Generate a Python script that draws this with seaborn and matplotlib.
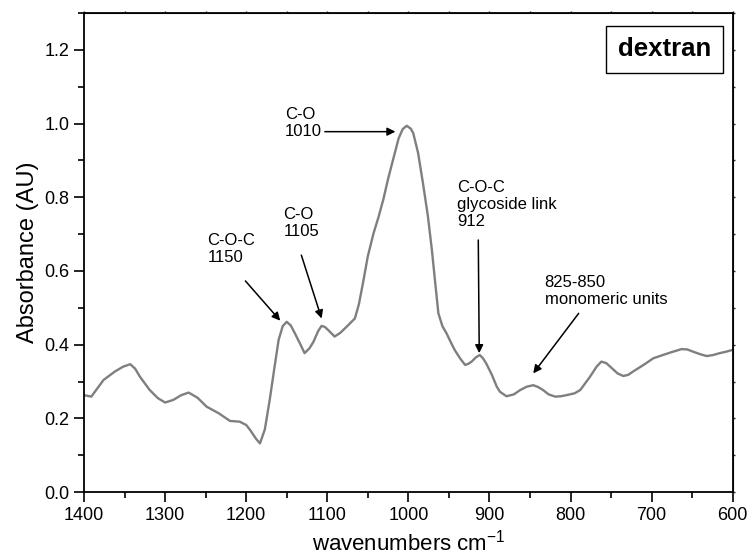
import numpy as np
import pandas as pd
import seaborn as sns
import matplotlib.pyplot as plt
from matplotlib.ticker import MultipleLocator

# FTIR spectrum of dextran
wavenumber = [1400, 1391, 1376, 1362, 1352, 1343, 1337, 1331, 1319, 1309, 1300,
              1290, 1280, 1271, 1260, 1249, 1234, 1220, 1208, 1200, 1195,
              1188, 1183, 1177, 1171, 1165, 1160, 1155, 1150, 1145, 1140,
              1133, 1128, 1122, 1117, 1111, 1107, 1103, 1099, 1091, 1084,
              1076, 1066, 1061, 1056, 1050, 1043, 1037, 1031, 1025, 1019,
              1012, 1007, 1002, 997, 994, 988, 982, 976, 971, 967, 963,
              958, 953, 948, 943, 936, 930, 926, 922, 917, 912,
              908, 904, 897, 891, 887, 879, 870, 862, 854, 846,
              840, 834, 827, 819, 812, 805, 795, 788, 782, 776,
              768, 762, 756, 749, 742, 735, 729, 723, 710, 698,
              686, 675, 663, 656, 649, 640, 632, 624, 616, 608, 600]
absorbance = [0.263, 0.259, 0.304, 0.327, 0.340, 0.347, 0.335, 0.313, 0.277, 0.255, 0.243,
              0.250, 0.263, 0.270, 0.256, 0.232, 0.214, 0.193, 0.191, 0.182, 0.168,
              0.145, 0.132, 0.170, 0.250, 0.340, 0.413, 0.450, 0.462, 0.452, 0.431,
              0.400, 0.377, 0.390, 0.408, 0.438, 0.451, 0.448, 0.440, 0.422, 0.432,
              0.449, 0.471, 0.510, 0.567, 0.640, 0.702, 0.745, 0.793, 0.850, 0.901,
              0.960, 0.985, 0.994, 0.986, 0.974, 0.920, 0.838, 0.750, 0.657, 0.570, 0.485,
              0.450, 0.431, 0.408, 0.386, 0.362, 0.345, 0.348, 0.354, 0.365, 0.372,
              0.363, 0.349, 0.318, 0.286, 0.272, 0.260, 0.265, 0.277, 0.286, 0.290,
              0.285, 0.277, 0.265, 0.259, 0.260, 0.263, 0.268, 0.277, 0.295, 0.313,
              0.340, 0.354, 0.350, 0.336, 0.322, 0.315, 0.318, 0.327, 0.345, 0.363,
              0.372, 0.380, 0.388, 0.387, 0.381, 0.374, 0.369, 0.372, 0.377, 0.381, 0.386]

# band annotations: label, text anchor (wn, abs), arrow start, arrow tip
labels = ["C-O-C\n1150", "C-O\n1105", "C-O\n1010",
          "C-O-C\nglycoside link\n912", "825-850\nmonomeric units"]
text_pos = [(1248, 0.703), (1154, 0.774), (1152, 1.045), (940, 0.847), (832, 0.589)]
arrow_from = [(1201, 0.573), (1132, 0.643), (1103, 0.978), (913.8, 0.684), (790, 0.485)]
arrow_to = [(1158, 0.465), (1107, 0.471), (1016, 0.978), (912.6, 0.377), (846, 0.322)]

df = pd.DataFrame({"wn": wavenumber, "abs": absorbance})

sns.set_style("ticks")
plt.rcParams['font.family'] = ['Liberation Sans', 'DejaVu Sans']
plt.rcParams['mathtext.fontset'] = 'custom'
plt.rcParams['mathtext.rm'] = 'Liberation Sans'
plt.rcParams['text.color'] = 'black'
plt.rcParams['axes.labelcolor'] = 'black'

fig = plt.figure(figsize=(7.5, 5.56), dpi=100)
ax = fig.add_axes([0.112, 0.115, 0.865, 0.8616])

sns.lineplot(data=df, x="wn", y="abs", sort=False, color="#7f7f7f", linewidth=1.7, ax=ax)

ax.set_xlim(1400, 600)
ax.set_ylim(0, 1.3)
ax.xaxis.set_major_locator(MultipleLocator(100))
ax.xaxis.set_minor_locator(MultipleLocator(50))
ax.set_yticks(np.arange(0, 1.21, 0.2))
ax.set_yticklabels([f"{v:.1f}" for v in np.arange(0, 1.21, 0.2)])
ax.yaxis.set_minor_locator(MultipleLocator(0.1))
ax.tick_params(which='major', direction='out', length=7, width=1.2, labelsize=13, colors='black')
ax.tick_params(which='minor', direction='out', length=4, width=1.2, colors='black')
for s in ax.spines.values():
    s.set_visible(True)
    s.set_linewidth(1.3)
    s.set_color('black')

# tiny ticks on top and right
top = ax.secondary_xaxis('top')
top.xaxis.set_major_locator(MultipleLocator(50))
top.tick_params(direction='out', length=1.5, width=1, labeltop=False)
right = ax.secondary_yaxis('right')
right.yaxis.set_major_locator(MultipleLocator(0.1))
right.tick_params(direction='out', length=1.5, width=1, labelright=False)

ax.set_xlabel(r"wavenumbers cm$^{\mathregular{-1}}$", fontsize=16, labelpad=4)
ax.set_ylabel("Absorbance (AU)", fontsize=17, labelpad=4)

for lab, tp, a0, a1 in zip(labels, text_pos, arrow_from, arrow_to):
    ax.text(tp[0], tp[1], lab, fontsize=12, ha='left', va='top', linespacing=1.15)
    ax.annotate("", xy=a1, xytext=a0,
                arrowprops=dict(arrowstyle='-|>', color='black', lw=1.1,
                                mutation_scale=12, shrinkA=0, shrinkB=0))

ax.text(0.895, 0.924, "dextran", transform=ax.transAxes, fontsize=18.5,
        fontweight='bold', ha='center', va='center',
        bbox=dict(boxstyle='square,pad=0.45', facecolor='white', edgecolor='black', lw=1))

fig.savefig("out.png", dpi=100)
